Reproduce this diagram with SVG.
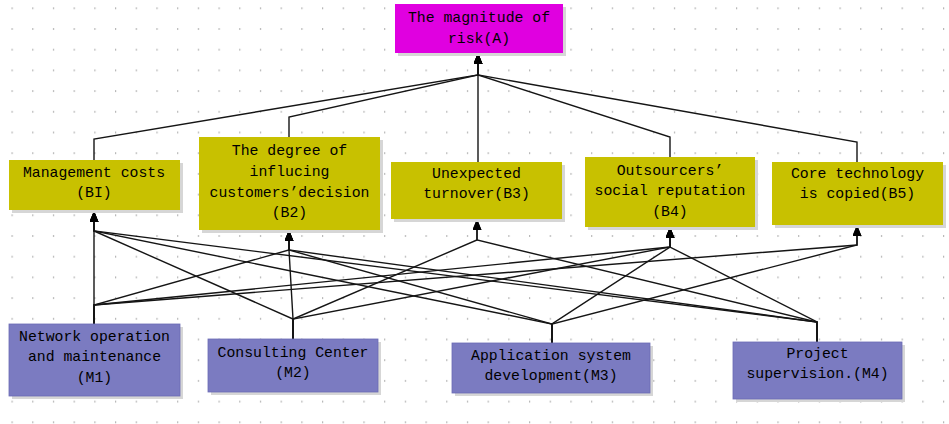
<svg xmlns="http://www.w3.org/2000/svg" width="949" height="424" viewBox="0 0 949 424">
<defs>
<pattern id="grid" x="11.5" y="7.3" width="20.7" height="20.7" patternUnits="userSpaceOnUse">
<rect x="0" y="0" width="1.2" height="2" fill="#B8B8B8"/>
</pattern>
<marker id="arr" markerUnits="userSpaceOnUse" markerWidth="11" markerHeight="9" refX="11" refY="4.5" orient="auto">
<path d="M0,0 L11,4.5 L0,9 z" fill="#000"/>
</marker>
<style>
.sh{fill:#D6D6D6}
.a{fill:#E000E0}
.b{fill:#C8C100}
.m{fill:#7B7BC1;stroke:#6C6CB4;stroke-width:0.8}
.t{font-family:"Liberation Mono","Courier New",monospace;font-size:14.8px;fill:#000;text-anchor:middle}
.c{fill:none;stroke:#151515;stroke-width:1.4;stroke-linejoin:miter}
</style>
</defs>
<rect width="949" height="424" fill="#FFFFFF"/>
<rect width="949" height="424" fill="url(#grid)"/>

<g id="connectors">
<polyline class="c" points="94,160 94,139 478,75 478,53" marker-end="url(#arr)"/>
<polyline class="c" points="289,137 289,117 478,75 478,53" marker-end="url(#arr)"/>
<polyline class="c" points="478,162 478,75 478,53" marker-end="url(#arr)"/>
<polyline class="c" points="670,157 670,137 478,75 478,53" marker-end="url(#arr)"/>
<polyline class="c" points="857,162 857,142 478,75 478,53" marker-end="url(#arr)"/>
<polyline class="c" points="94,324 94,305 94,231 94,211" marker-end="url(#arr)"/>
<polyline class="c" points="94,324 94,305 289,250 289,230" marker-end="url(#arr)"/>
<polyline class="c" points="94,324 94,305 670,247 670,227" marker-end="url(#arr)"/>
<polyline class="c" points="94,324 94,305 857,245 857,225" marker-end="url(#arr)"/>
<polyline class="c" points="293,339 293,319 94,231 94,211" marker-end="url(#arr)"/>
<polyline class="c" points="293,339 293,319 289,250 289,230" marker-end="url(#arr)"/>
<polyline class="c" points="293,339 293,319 477,240 477,219" marker-end="url(#arr)"/>
<polyline class="c" points="293,339 293,319 670,247 670,227" marker-end="url(#arr)"/>
<polyline class="c" points="552,343 552,324 94,231 94,211" marker-end="url(#arr)"/>
<polyline class="c" points="552,343 552,324 289,250 289,230" marker-end="url(#arr)"/>
<polyline class="c" points="552,343 552,324 670,247 670,227" marker-end="url(#arr)"/>
<polyline class="c" points="552,343 552,324 857,245 857,225" marker-end="url(#arr)"/>
<polyline class="c" points="817,342 817,322 94,231 94,211" marker-end="url(#arr)"/>
<polyline class="c" points="817,342 817,322 289,250 289,230" marker-end="url(#arr)"/>
<polyline class="c" points="817,342 817,322 477,240 477,219" marker-end="url(#arr)"/>
<polyline class="c" points="817,342 817,322 670,247 670,227" marker-end="url(#arr)"/>
</g>

<g id="A">
<rect class="sh" x="398" y="7" width="168" height="49"/>
<rect class="a" x="395" y="4" width="168" height="49"/>
<text class="t" x="479" y="21.5">The magnitude of</text>
<text class="t" x="479" y="42.5">risk(A)</text>
</g>

<g id="B1">
<rect class="sh" x="12" y="163" width="171" height="50"/>
<rect class="b" x="9" y="160" width="171" height="50"/>
<text class="t" x="94" y="177">Management costs</text>
<text class="t" x="94" y="197">(BI)</text>
</g>

<g id="B2">
<rect class="sh" x="202" y="140" width="181" height="93"/>
<rect class="b" x="199" y="137" width="181" height="93"/>
<text class="t" x="289.5" y="155">The degree of</text>
<text class="t" x="289.5" y="176">influcing</text>
<text class="t" x="289.5" y="196.5">customers’decision</text>
<text class="t" x="289.5" y="216.5">(B2)</text>
</g>

<g id="B3">
<rect class="sh" x="394" y="165" width="171" height="57"/>
<rect class="b" x="391" y="162" width="171" height="57"/>
<text class="t" x="476.5" y="177.5">Unexpected</text>
<text class="t" x="476.5" y="197.5">turnover(B3)</text>
</g>

<g id="B4">
<rect class="sh" x="588" y="160" width="170" height="70"/>
<rect class="b" x="585" y="157" width="170" height="70"/>
<text class="t" x="670" y="174.5">Outsourcers’</text>
<text class="t" x="670" y="195">social reputation</text>
<text class="t" x="670" y="215.5">(B4)</text>
</g>

<g id="B5">
<rect class="sh" x="775" y="165" width="171" height="63"/>
<rect class="b" x="772" y="162" width="171" height="63"/>
<text class="t" x="857.5" y="177.5">Core technology</text>
<text class="t" x="857.5" y="197.5">is copied(B5)</text>
</g>

<g id="M1">
<rect class="sh" x="12" y="327" width="171" height="72"/>
<rect class="m" x="9" y="324" width="171" height="72"/>
<text class="t" x="94.5" y="340.5">Network operation</text>
<text class="t" x="94.5" y="361">and maintenance</text>
<text class="t" x="94.5" y="381.5">(M1)</text>
</g>

<g id="M2">
<rect class="sh" x="211" y="342" width="170" height="53"/>
<rect class="m" x="208" y="339" width="170" height="53"/>
<text class="t" x="293" y="356.5">Consulting Center</text>
<text class="t" x="293" y="376.5">(M2)</text>
</g>

<g id="M3">
<rect class="sh" x="455" y="346" width="198" height="50"/>
<rect class="m" x="452" y="343" width="198" height="50"/>
<text class="t" x="551" y="359.5">Application system</text>
<text class="t" x="551" y="379.5">development(M3)</text>
</g>

<g id="M4">
<rect class="sh" x="736" y="345" width="169" height="57"/>
<rect class="m" x="733" y="342" width="169" height="57"/>
<text class="t" x="817.5" y="357.5">Project</text>
<text class="t" x="817.5" y="378">supervision.(M4)</text>
</g>
</svg>
